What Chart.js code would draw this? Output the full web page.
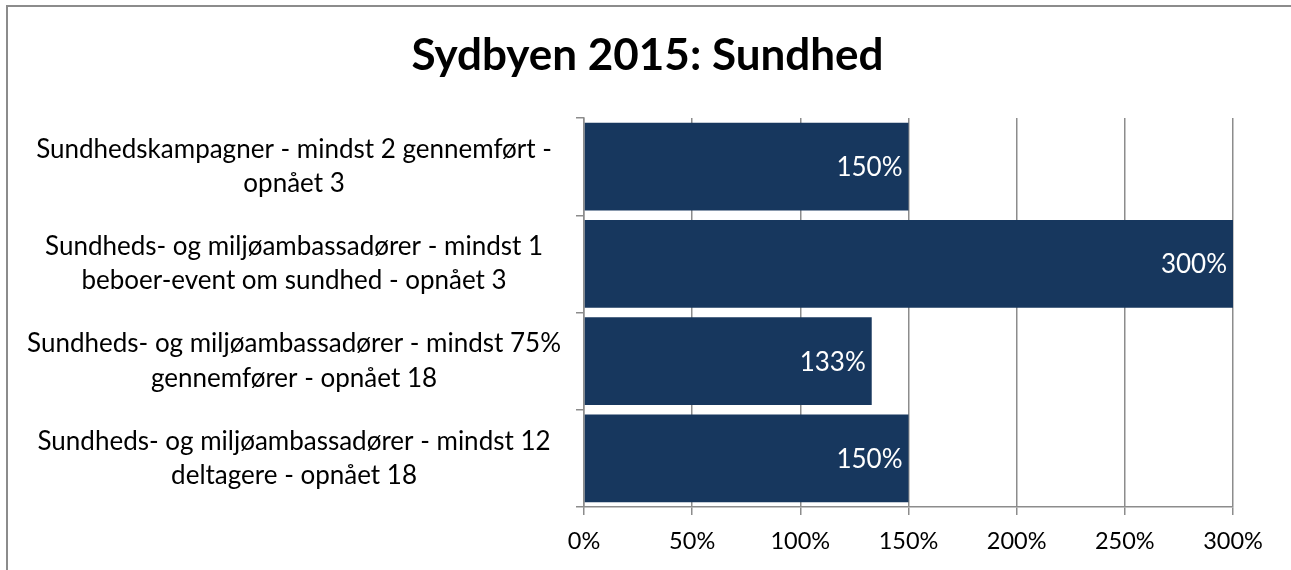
<!DOCTYPE html>
<html>
<head>
<meta charset="utf-8">
<script src="https://cdn.jsdelivr.net/npm/chart.js@4.4.1/dist/chart.umd.min.js"></script>
<style>
  html, body { margin: 0; padding: 0; background: #fff; overflow: hidden; }
  #wrap { position: absolute; left: 0; top: 0; width: 1291px; height: 570px; }
</style>
</head>
<body>
<div id="wrap"><canvas id="id_graph"></canvas></div>
<script>
// data
var chartTitle = 'Sydbyen 2015: Sundhed';
var categories = [
  ['Sundhedskampagner - mindst 2 gennemført -', 'opnået 3'],
  ['Sundheds- og miljøambassadører - mindst 1', 'beboer-event om sundhed - opnået 3'],
  ['Sundheds- og miljøambassadører - mindst 75%', 'gennemfører - opnået 18'],
  ['Sundheds- og miljøambassadører - mindst 12', 'deltagere - opnået 18']
];
var achieved = [150, 300, 133, 150];
var tickValues = [0, 50, 100, 150, 200, 250, 300];

var navy = '#17375e';
var gridGray = '#8c8c8c';

// outer frame (only left and top edges are inside the picture) and title
var frameAndTitle = {
  id: 'frameAndTitle',
  beforeDraw: function (chart) {
    var ctx = chart.ctx;
    ctx.save();
    ctx.strokeStyle = gridGray;
    ctx.lineWidth = 2;
    ctx.beginPath();
    ctx.moveTo(7, chart.height);
    ctx.lineTo(7, 6);
    ctx.lineTo(chart.width, 6);
    ctx.stroke();
    ctx.fillStyle = '#000';
    ctx.font = 'bold 44px Lato';
    ctx.textAlign = 'center';
    ctx.textBaseline = 'middle';
    ctx.fillText(chartTitle, chart.width / 2 + 2, 56);
    ctx.restore();
  }
};

// draws the % value inside the end of each bar
var barLabels = {
  id: 'barLabels',
  afterDatasetsDraw: function (chart) {
    var ctx = chart.ctx;
    var meta = chart.getDatasetMeta(0);
    ctx.save();
    ctx.font = '26px Lato';
    ctx.fillStyle = '#ffffff';
    ctx.textAlign = 'right';
    ctx.textBaseline = 'middle';
    meta.data.forEach(function (bar, i) {
      ctx.fillText(Math.round(achieved[i]) + '%', bar.x - 6, bar.y + 1);
    });
    ctx.restore();
  }
};

var ctx = document.getElementById('id_graph').getContext('2d');
new Chart(ctx, {
  type: 'bar',
  data: {
    labels: categories,
    datasets: [{
      data: achieved,
      backgroundColor: navy,
      borderWidth: 0,
      barPercentage: 0.9,
      categoryPercentage: 1.0
    }]
  },
  plugins: [frameAndTitle, barLabels],
  options: {
    indexAxis: 'y',
    responsive: true,
    maintainAspectRatio: false,
    animation: false,
    layout: { padding: { left: 0, right: 58, top: 118, bottom: 0 } },
    plugins: {
      legend: { display: false },
      tooltip: { enabled: false },
      title: { display: false }
    },
    scales: {
      x: {
        min: 0,
        max: 300,
        afterBuildTicks: function (scale) {
          scale.ticks = tickValues.map(function (v) { return { value: v }; });
        },
        afterFit: function (scale) { scale.height = 63; },
        ticks: {
          color: '#000',
          font: { family: 'Lato', size: 23.5 },
          padding: 12,
          maxRotation: 0,
          callback: function (v) { return v + '%'; }
        },
        grid: { color: gridGray, lineWidth: 1.5, tickLength: 8, drawTicks: true },
        border: { color: gridGray, width: 1.5 }
      },
      y: {
        afterFit: function (scale) { scale.width = 584; },
        ticks: {
          color: '#000',
          font: { family: 'Lato', size: 26, lineHeight: 1.31 },
          crossAlign: 'center',
          padding: 15
        },
        grid: { offset: true, drawOnChartArea: false, color: gridGray, lineWidth: 1.5, tickLength: 8 },
        border: { color: gridGray, width: 1.5 }
      }
    }
  }
});
</script>
</body>
</html>
